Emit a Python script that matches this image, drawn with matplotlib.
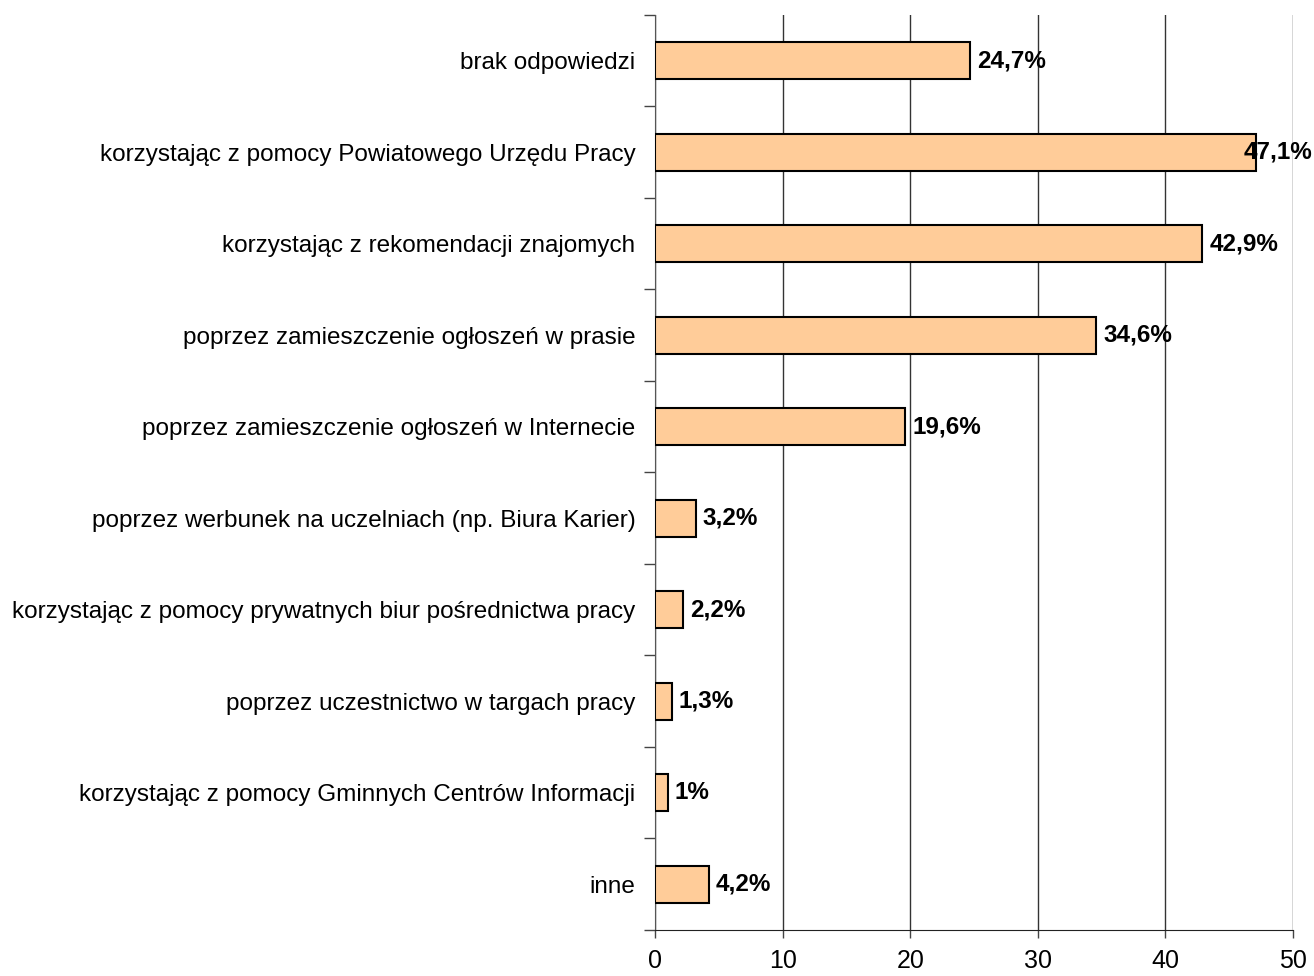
import numpy as np
import matplotlib
matplotlib.use("Agg")
from matplotlib import pyplot as plt
from matplotlib.ticker import FixedLocator

plt.rcParams["font.family"] = ["Liberation Sans", "DejaVu Sans"]

categories = [
    "brak odpowiedzi",
    "korzystając z pomocy Powiatowego Urzędu Pracy",
    "korzystając z rekomendacji znajomych",
    "poprzez zamieszczenie ogłoszeń w prasie",
    "poprzez zamieszczenie ogłoszeń w Internecie",
    "poprzez werbunek na uczelniach (np. Biura Karier)",
    "korzystając z pomocy prywatnych biur pośrednictwa pracy",
    "poprzez uczestnictwo w targach pracy",
    "korzystając z pomocy Gminnych Centrów Informacji",
    "inne",
]
values = [24.7, 47.1, 42.9, 34.6, 19.6, 3.2, 2.2, 1.3, 1.0, 4.2]
value_labels = ["24,7%", "47,1%", "42,9%", "34,6%", "19,6%", "3,2%", "2,2%", "1,3%", "1%", "4,2%"]
x_ticks = [0, 10, 20, 30, 40, 50]

fig = plt.figure(figsize=(13.14, 9.76), dpi=100)
ax = fig.add_axes([655 / 1314, 46 / 976, 638 / 1314, 915 / 976])

y = np.arange(len(categories))
ax.barh(y, values, height=0.4, color="#FFCC99", edgecolor="black", linewidth=1.5, zorder=3)

xmax = 50
for yi, v, lab in zip(y, values, value_labels):
    if v > 45:
        # too long to sit after the bar, pull it back inside the figure
        ax.text(xmax + 1.55, yi, lab, va="center", ha="right", fontsize=17.5,
                fontweight="bold", zorder=4, clip_on=False)
    else:
        ax.text(v + 0.55, yi, lab, va="center", ha="left", fontsize=17.5,
                fontweight="bold", zorder=4)

ax.set_xlim(0, xmax)
ax.set_ylim(len(categories) - 0.5, -0.5)
ax.set_xticks(x_ticks)
ax.set_xticklabels([str(t) for t in x_ticks], fontsize=18)
ax.set_yticks(y)
ax.set_yticklabels(categories, fontsize=17.5)
ax.yaxis.set_minor_locator(FixedLocator(np.arange(-0.5, len(categories), 1.0)))
ax.tick_params(axis="y", which="major", length=0, pad=14)
ax.tick_params(axis="y", which="minor", length=8, width=1, color="#444444")
ax.tick_params(axis="x", length=6, width=1, pad=8, color="#444444")

ax.grid(axis="x", color="#333333", linewidth=1, zorder=0)
for side in ["top", "right"]:
    ax.spines[side].set_visible(False)
ax.spines["left"].set_color("#555555")
ax.spines["bottom"].set_color("#222222")

fig.savefig("out.png", dpi=100)
